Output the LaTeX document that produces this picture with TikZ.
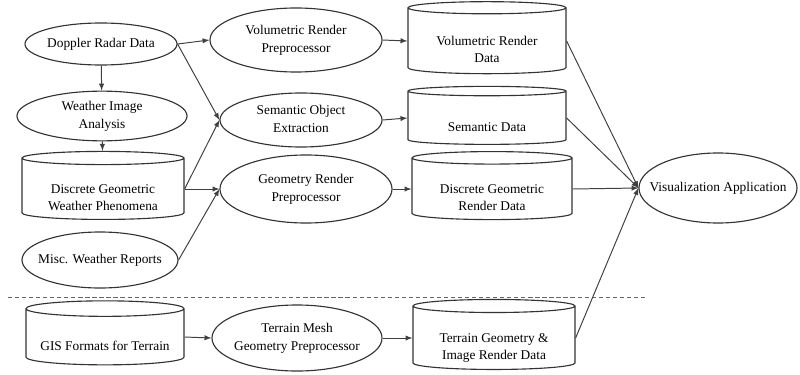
\documentclass[tikz,border=0pt]{standalone}
\usepackage{fontspec}
\setmainfont{Liberation Serif}
\usepackage{tikz}
\usetikzlibrary{shapes.geometric}

% ellipse text that does not widen its shape
\newcommand{\lbl}[1]{\makebox[0pt]{\begin{tabular}{@{}c@{}}#1\end{tabular}}}
% store text, set below the top cap
\newcommand{\slbl}[1]{\raisebox{-9pt}[0pt][0pt]{\begin{tabular}{@{}c@{}}#1\end{tabular}}}

\begin{document}
\begin{tikzpicture}[x=0.025cm, y=-0.025cm,
    proc/.style={draw=black!80, ellipse, line width=0.8pt, inner sep=0pt,
                 font=\fontsize{9.5}{12.5}\selectfont},
    store/.style={draw=black!80, cylinder, shape border rotate=90, aspect=0.12, line width=0.8pt,
                  inner sep=0pt, font=\fontsize{9.5}{12.5}\selectfont},
    arrow/.style={->, >=latex, line width=0.7pt, black!75},
  ]
    \useasboundingbox (0,0) rectangle (800,374);

    % weather side
    \node[proc, minimum width=3.8cm, minimum height=1.05cm] (doppler) at (101,44) {\lbl{Doppler Radar Data}};
    \node[proc, minimum width=4.25cm, minimum height=1.2cm] (wia) at (102,116) {\lbl{Weather Image\\Analysis}};
    \node[store, minimum width=4.05cm, minimum height=1.7cm] (dgwp) at (103,189) {\slbl{Discrete Geometric\\Weather Phenomena}};
    \node[proc, minimum width=3.9cm, minimum height=1.4cm] (misc) at (100,260) {\lbl{Misc. Weather Reports}};

    \node[proc, minimum width=4.3cm, minimum height=1.6cm] (vrp) at (296,40) {\lbl{Volumetric Render\\Preprocessor}};
    \node[proc, minimum width=4.05cm, minimum height=1.35cm] (soe) at (301,120) {\lbl{Semantic Object\\Extraction}};
    \node[proc, minimum width=4.3cm, minimum height=1.7cm] (grp) at (306,189) {\lbl{Geometry Render\\Preprocessor}};

    \node[store, minimum width=3.95cm, minimum height=1.8cm] (vrd) at (487,41) {\slbl{Volumetric Render\\Data}};
    \node[store, minimum width=3.95cm, minimum height=1.45cm] (sem) at (487,118) {\slbl{Semantic Data}};
    \node[store, minimum width=4cm, minimum height=1.7cm] (dgrd) at (492,189) {\slbl{Discrete Geometric\\Render Data}};

    \node[proc, minimum width=3.95cm, minimum height=1.75cm] (vis) at (718,188) {\lbl{Visualization Application}};

    % terrain side
    \draw[densely dashed, black!60, line width=0.7pt] (8,297) -- (645,297);
    \node[store, minimum width=3.95cm, minimum height=1.6cm] (gis) at (105,337) {\slbl{GIS Formats for Terrain}};
    \node[proc, minimum width=4.25cm, minimum height=1.65cm] (tmgp) at (297,338) {\lbl{Terrain Mesh\\Geometry Preprocessor}};
    \node[store, minimum width=4.05cm, minimum height=1.75cm] (tgrd) at (494,338) {\slbl{Terrain Geometry \&\\Image Render Data}};

    \draw[arrow] (doppler) -- (wia);
    \draw[arrow] (wia) -- (dgwp);
    \draw[arrow] (doppler.east) -- (vrp.west);
    \draw[arrow] (doppler.east) -- (soe.west);
    \draw[arrow] (dgwp.east) -- (soe.west);
    \draw[arrow] (dgwp.east) -- (grp.west);
    \draw[arrow] (misc.east) -- (grp.west);
    \draw[arrow] (vrp.east) -- (vrd.west);
    \draw[arrow] (soe.east) -- (sem.west);
    \draw[arrow] (grp.east) -- (dgrd.west);
    \draw[arrow] (vrd.east) -- (vis.west);
    \draw[arrow] (sem.east) -- (vis.west);
    \draw[arrow] (dgrd.east) -- (vis.west);
    \draw[arrow] (gis.east) -- (tmgp.west);
    \draw[arrow] (tmgp.east) -- (tgrd.west);
    \draw[arrow] (tgrd.east) -- (vis.west);
  \end{tikzpicture}
\end{document}
